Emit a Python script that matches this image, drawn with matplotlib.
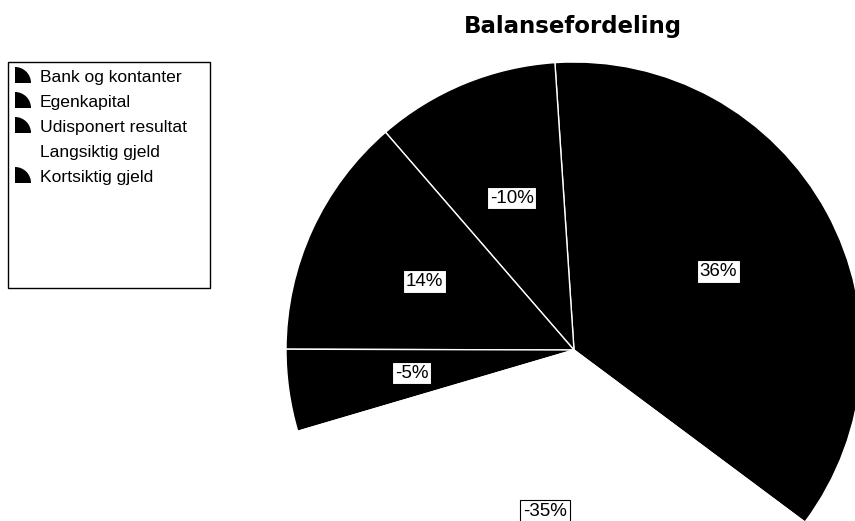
### Packages
import numpy as np
import matplotlib
matplotlib.use("Agg")
import matplotlib.pyplot as plt
from matplotlib.patches import Wedge, Rectangle

## Data ----------------------

categories = ["Bank og kontanter", "Egenkapital", "Udisponert resultat",
              "Langsiktig gjeld", "Kortsiktig gjeld"]
legend_colors = ["black", "black", "black", "white", "black"]

# wedge shares as drawn (counter clockwise from the start angle)
wedge_sizes = [36.25, 10.3, 13.6, 4.6, 35.25]
wedge_colors = ["black", "black", "black", "black", "white"]

# labels as printed in the chart
label_pct = [36, -10, 14, -5, -35]

## Figure ----------------------

W, H = 855, 521
fig = plt.figure(figsize=(W / 100, H / 100), dpi=100)
ax = fig.add_axes([0, 0, 1, 1])

cx, cy, R = 574, H - 350, 288
start = -36.7

wedges, _ = ax.pie(wedge_sizes, colors=wedge_colors, startangle=start,
                   counterclock=True, center=(cx, cy), radius=R,
                   wedgeprops=dict(edgecolor="white", linewidth=1.0))

# percentage labels in the middle of each wedge
for w, pct in zip(wedges, label_pct):
    mid = np.deg2rad((w.theta1 + w.theta2) / 2)
    r = 0.57 * R
    ax.text(cx + r * np.cos(mid), cy + r * np.sin(mid), f"{pct}%",
            ha="center", va="center", fontsize=13.5, family="Liberation Sans",
            bbox=dict(boxstyle="square,pad=0.15", facecolor="white",
                      edgecolor="black", linewidth=0.8))

# legend box drawn by hand (fixed size frame)
ax.add_patch(Rectangle((8, H - 288), 202, 226, facecolor="white",
                       edgecolor="black", linewidth=1.0))
for i, (name, col) in enumerate(zip(categories, legend_colors)):
    base = H - (82 + i * 25.0)
    ax.add_patch(Wedge((15, base - 1), 16, 0, 90, facecolor=col,
                       edgecolor="none"))
    ax.text(40, base, name, ha="left", va="baseline", fontsize=12.6,
            family="Liberation Sans")

ax.text(573, H - 33, "Balansefordeling", ha="center", va="baseline",
        fontsize=16.5, fontweight="bold", family="DejaVu Sans")

ax.set_xlim(0, W)
ax.set_ylim(0, H)
ax.set_aspect("equal")
ax.axis("off")

fig.savefig("out.png", dpi=100)
